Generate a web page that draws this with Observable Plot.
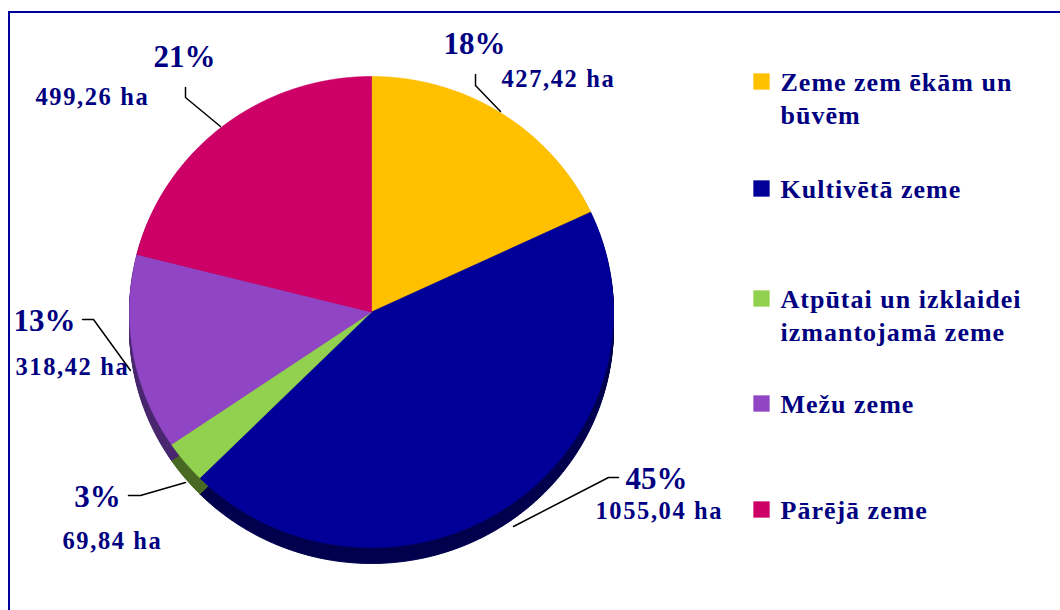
<!DOCTYPE html>
<html>
<head>
<meta charset="utf-8">
<script src="https://cdn.jsdelivr.net/npm/d3@7"></script>
<script src="https://cdn.jsdelivr.net/npm/@observablehq/plot@0.6"></script>
<style>
  html, body { margin: 0; padding: 0; background: #fff; }
  #wrap { position: relative; width: 1060px; height: 610px; overflow: hidden; }
  #border { position: absolute; left: 8px; top: 11px; width: 1100px; height: 700px;
            border-left: 2px solid #000096; border-top: 2px solid #000096; pointer-events: none; }
  .ls-ha text, text.ls-ha, .ls-ha tspan { letter-spacing: 1.6px; }
  .ls-leg text, text.ls-leg, .ls-leg tspan { letter-spacing: 1px; }
</style>
</head>
<body>
<div id="wrap"><div id="border"></div><div id="chart"></div></div>
<script>
// ---- data ----
const categories = ["Zeme zem ēkām un būvēm", "Kultivētā zeme", "Atpūtai un izklaidei izmantojamā zeme", "Mežu zeme", "Pārējā zeme"];
const areas = [427.42, 1055.04, 69.84, 318.42, 499.26];
const percentLabels = ["18%", "45%", "3%", "13%", "21%"];
const areaLabels = ["427,42 ha", "1055,04 ha", "69,84 ha", "318,42 ha", "499,26 ha"];
const legendLabels = ["Zeme zem ēkām un\nbūvēm", "Kultivētā zeme", "Atpūtai un izklaidei\nizmantojamā zeme", "Mežu zeme", "Pārējā zeme"];
const colors = ["#FFC000", "#000099", "#92D050", "#9046C4", "#CC0066"];
const sideColors = ["#806000", "#00004E", "#4A6A24", "#4A2870", "#660033"];

// ---- layout (pixels) ----
const W = 1060, H = 610;
const cx = 371, cy = 311.5, rx = 242, ry = 235.5, depth = 16;
const pctPos = [[474, 53], [656, 488], [97, 506], [44, 330], [184, 66]];
const haPos = [[501, 86], [595, 518], [62, 548], [15, 374], [35, 104]];
const leaders = [
  [[475, 74], [475, 85], [500, 111]],
  [[618, 477], [608, 477], [513, 526]],
  [[128, 495], [140, 495], [185, 482]],
  [[82, 319], [93, 319], [130, 370]],
  [[185, 87], [185, 97], [220, 126]]
];
const legendX = 761, legendTextX = 780;
const legendY = [90, 197, 307, 412, 518]; // first-line baselines
const legendFont = 26, legendLineHeight = 1.27;
const textColor = "#000080";
const font = "'Liberation Serif', 'Times New Roman', serif";

// ---- pie geometry via d3.pie ----
const arcs = d3.pie().sort(null).value(d => d)(areas);
function slicePoints(offsetY) {
  const pts = [];
  arcs.forEach((a, i) => {
    const cat = categories[i];
    pts.push({cat, x: cx, y: cy + offsetY});
    const n = Math.max(2, Math.ceil((a.endAngle - a.startAngle) / (Math.PI / 360)));
    for (let k = 0; k <= n; k++) {
      const t = a.startAngle + (a.endAngle - a.startAngle) * k / n;
      pts.push({cat, x: cx + rx * Math.sin(t), y: cy + offsetY - ry * Math.cos(t)});
    }
    pts.push({cat, x: cx, y: cy + offsetY});
  });
  return pts;
}
const topFace = slicePoints(0);
const sideLayers = [];
for (let d = depth; d >= 1; d--) slicePoints(d).forEach(p => sideLayers.push({...p, layer: d}));

const labels = categories.map((c, i) => ({
  cat: c, pct: percentLabels[i], ha: areaLabels[i],
  px: pctPos[i][0], py: pctPos[i][1], hx: haPos[i][0], hy: haPos[i][1]
}));
const leaderPts = leaders.flatMap((l, i) => l.map(([x, y]) => ({cat: categories[i], x, y})));
const legend = categories.map((c, i) => {
  const nLines = legendLabels[i].split("\n").length;
  return {cat: c, label: legendLabels[i], y: legendY[i], yLast: legendY[i] + (nLines - 1) * legendFont * legendLineHeight};
});

const sideMarks = categories.map((c, i) =>
  Plot.line(sideLayers.filter(d => d.cat === c), {x: "x", y: "y", z: "layer", fill: sideColors[i], stroke: sideColors[i], strokeWidth: 1, curve: "linear"})
);

const chart = Plot.plot({
  width: W, height: H,
  margin: 0,
  className: "chart",
  x: {domain: [0, W], range: [0, W], axis: null},
  y: {domain: [0, H], range: [0, H], axis: null},
  color: {domain: categories, range: colors},
  style: {fontFamily: font, background: "transparent"},
  marks: [
    ...sideMarks,
    // top face
    Plot.line(topFace, {x: "x", y: "y", z: "cat", fill: "cat", stroke: "cat", strokeWidth: 0.6, curve: "linear"}),
    // leader lines
    Plot.line(leaderPts, {x: "x", y: "y", z: "cat", stroke: "black", strokeWidth: 1.5}),
    // percent labels
    Plot.text(labels, {x: "px", y: "py", text: "pct", textAnchor: "middle", lineAnchor: "bottom",
      fontSize: 31, fontWeight: "bold", fill: textColor}),
    // hectare labels
    Plot.text(labels, {x: "hx", y: "hy", text: "ha", textAnchor: "start", lineAnchor: "bottom",
      fontSize: 24.5, fontWeight: "bold", fill: textColor, className: "ls-ha"}),
    // legend swatches
    Plot.dot(legend, {x: () => legendX, y: d => d.y - 9, fill: "cat", symbol: "square", r: 9.2, stroke: "none"}),
    // legend text
    Plot.text(legend, {x: () => legendTextX, y: "yLast", text: "label", textAnchor: "start", lineAnchor: "bottom",
      lineHeight: legendLineHeight, fontSize: legendFont, fontWeight: "bold", fill: textColor, className: "ls-leg"})
  ]
});
document.getElementById("chart").appendChild(chart);
</script>
</body>
</html>
